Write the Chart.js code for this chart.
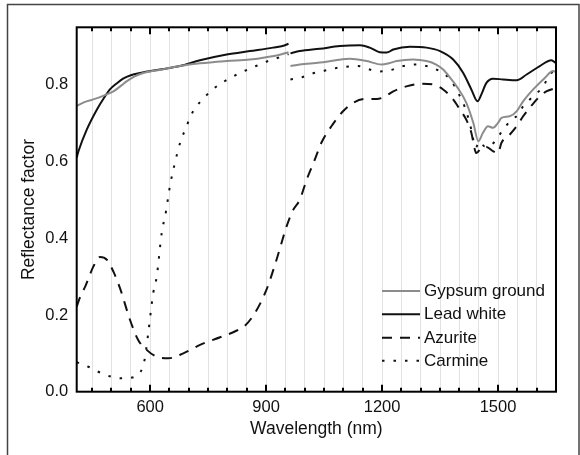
<!DOCTYPE html>
<html>
<head>
<meta charset="utf-8">
<script src="https://cdn.jsdelivr.net/npm/chart.js@4.4.0/dist/chart.umd.min.js"></script>
<style>
  html, body { margin: 0; padding: 0; background: #fff; }
  #wrap { width: 580px; height: 455px; position: relative; }
</style>
</head>
<body>
<div id="wrap"><canvas id="c" width="580" height="455"></canvas></div>
<script>
// ---- data (null = break between detectors at ~961 nm) ----
const gypsumNm = [410,430,453,480,505,525,539,560,582,620,677,729,798,858,900,930,958,961,963,987,1039,1080,1117,1160,1199,1220,1238,1280,1315,1340,1358,1375,1393,1418,1436,1449,1461,1474,1487,1500,1509,1530,1548,1565,1591,1621,1642,1650];
const gypsumR  = [0.745,0.755,0.762,0.772,0.783,0.798,0.809,0.822,0.831,0.838,0.849,0.856,0.862,0.866,0.872,0.877,0.885,null,0.849,0.853,0.858,0.864,0.868,0.862,0.853,0.857,0.862,0.866,0.862,0.853,0.840,0.820,0.796,0.753,0.701,0.653,0.675,0.692,0.688,0.701,0.714,0.718,0.731,0.757,0.788,0.818,0.836,0.833];

const leadNm = [410,415,436,462,480,496,515,530,550,574,625,677,729,798,858,918,945,958,961,963,987,1039,1091,1143,1168,1194,1212,1229,1272,1315,1350,1384,1410,1431,1447,1457,1470,1487,1513,1548,1574,1608,1638,1650];
const leadR  = [0.610,0.628,0.683,0.735,0.765,0.788,0.805,0.816,0.825,0.831,0.840,0.849,0.864,0.879,0.888,0.897,0.902,0.907,null,0.882,0.888,0.894,0.901,0.903,0.897,0.885,0.884,0.892,0.899,0.897,0.888,0.866,0.831,0.788,0.757,0.775,0.805,0.816,0.814,0.812,0.827,0.849,0.864,0.856];

const azuriteNm = [410,420,432,453,470,488,505,522,548,569,591,617,647,686,729,781,819,845,871,901,927,953,970,987,1005,1026,1043,1069,1099,1125,1156,1186,1207,1229,1263,1302,1332,1358,1384,1401,1418,1431,1440,1444,1457,1470,1487,1500,1509,1530,1548,1565,1582,1608,1625,1650];
const azuriteR  = [0.222,0.250,0.274,0.326,0.351,0.344,0.313,0.270,0.187,0.135,0.109,0.091,0.087,0.100,0.122,0.142,0.157,0.172,0.205,0.266,0.344,0.431,0.474,0.500,0.553,0.605,0.649,0.692,0.731,0.753,0.763,0.763,0.769,0.783,0.796,0.803,0.801,0.788,0.762,0.736,0.709,0.675,0.631,0.622,0.636,0.638,0.627,0.622,0.649,0.670,0.692,0.718,0.740,0.770,0.783,0.792];

const carmineNm = [410,440,470,500,526,558,572,580,587,595,608,617,630,641,651,664,680,693,703,720,739,762,785,808,832,858,897,944,958,961,963,987,1018,1048,1082,1138,1168,1194,1220,1255,1289,1315,1350,1376,1397,1418,1431,1442,1452,1465,1478,1495,1513,1535,1552,1565,1591,1617,1635,1650];
const carmineR  = [0.077,0.065,0.050,0.039,0.035,0.038,0.048,0.062,0.091,0.152,0.257,0.300,0.414,0.470,0.535,0.596,0.657,0.688,0.715,0.744,0.766,0.788,0.805,0.818,0.831,0.842,0.859,0.875,0.880,null,0.814,0.818,0.829,0.836,0.844,0.849,0.840,0.835,0.838,0.849,0.853,0.849,0.835,0.814,0.779,0.731,0.683,0.636,0.653,0.640,0.640,0.657,0.683,0.709,0.722,0.744,0.770,0.796,0.829,0.836];

const seriesNames = ["Gypsum ground", "Lead white", "Azurite", "Carmine"];
const xMajorTicks = [600, 900, 1200, 1500];
const xMinorTicks = [450,500,550,600,650,700,750,800,850,900,950,1000,1050,1100,1150,1200,1250,1300,1350,1400,1450,1500,1550,1600];
const yTicks = [0.0, 0.2, 0.4, 0.6, 0.8];

const FONT = "'Liberation Sans', Arial, sans-serif";

function pts(xs, ys) { return xs.map((x, i) => ({ x: x, y: ys[i] })); }

const styles = [
  { color: '#8c8c8c', dash: [] },
  { color: '#111111', dash: [] },
  { color: '#111111', dash: [10, 8] },
  { color: '#111111', dash: [2.5, 9] }
];
const dataSets = [pts(gypsumNm, gypsumR), pts(leadNm, leadR), pts(azuriteNm, azuriteR), pts(carmineNm, carmineR)];

const frameAndTicks = {
  id: 'frameAndTicks',
  beforeDraw(chart) {
    const ctx = chart.ctx;
    ctx.save();
    ctx.fillStyle = '#fff';
    ctx.fillRect(0, 0, chart.width, chart.height);
    ctx.strokeStyle = '#444';
    ctx.lineWidth = 1.5;
    ctx.strokeRect(7.5, 4.5, 571.5, 470);
    ctx.restore();
  },
  afterDraw(chart) {
    const ctx = chart.ctx, ca = chart.chartArea, xs = chart.scales.x;
    ctx.save();
    ctx.strokeStyle = '#000';
    xMinorTicks.forEach(v => {
      const px = Math.round(xs.getPixelForValue(v));
      const major = xMajorTicks.includes(v);
      const len = major ? 7 : 4;
      ctx.lineWidth = 2;
      ctx.beginPath();
      ctx.moveTo(px, ca.bottom); ctx.lineTo(px, ca.bottom - len);
      ctx.moveTo(px, ca.top); ctx.lineTo(px, ca.top + len);
      ctx.stroke();
    });
    ctx.lineWidth = 2;
    ctx.strokeRect(ca.left, ca.top, ca.right - ca.left, ca.bottom - ca.top);
    const rowsY = [291, 314.3, 337.7, 360.7];
    ctx.font = '17px ' + FONT;
    ctx.textBaseline = 'middle';
    ctx.textAlign = 'left';
    seriesNames.forEach((name, i) => {
      ctx.strokeStyle = styles[i].color;
      ctx.lineWidth = 2;
      ctx.setLineDash(styles[i].dash);
      ctx.beginPath();
      ctx.moveTo(382, rowsY[i]); ctx.lineTo(420, rowsY[i]);
      ctx.stroke();
      ctx.setLineDash([]);
      ctx.fillStyle = '#111';
      ctx.fillText(name, 424, rowsY[i] + 0.5);
    });
    ctx.restore();
  }
};

new Chart(document.getElementById('c'), {
  type: 'line',
  data: {
    datasets: seriesNames.map((n, i) => ({
      label: n,
      data: dataSets[i],
      borderColor: styles[i].color,
      borderDash: styles[i].dash,
      borderWidth: 2,
      pointRadius: 0,
      cubicInterpolationMode: 'monotone',
      spanGaps: false,
      fill: false
    }))
  },
  options: {
    responsive: false,
    animation: false,
    devicePixelRatio: 1,
    layout: { padding: { left: 0, top: 27.3, right: 24, bottom: 0 } },
    plugins: { legend: { display: false }, tooltip: { enabled: false } },
    scales: {
      x: {
        type: 'linear',
        min: 410, max: 1650,
        afterBuildTicks(scale) { scale.ticks = xMinorTicks.map(v => ({ value: v })); },
        afterFit(scale) { scale.height = 455 - 391.7; },
        grid: { color: '#e2e2e2', lineWidth: 1, drawTicks: false },
        border: { display: false },
        ticks: {
          padding: 6,
          maxRotation: 0,
          autoSkip: false,
          color: '#111',
          font: { family: FONT, size: 16.5 },
          callback: v => xMajorTicks.includes(v) ? String(v) : ''
        },
        title: { display: true, text: 'Wavelength (nm)', color: '#111', font: { family: FONT, size: 17.5 }, padding: { top: 0, bottom: 15 } }
      },
      y: {
        min: 0, max: 0.95,
        afterBuildTicks(scale) { scale.ticks = yTicks.map(v => ({ value: v })); },
        afterFit(scale) { scale.width = 76.7; },
        grid: { display: false, drawTicks: false },
        border: { display: false },
        ticks: {
          padding: 8.4,
          color: '#111',
          font: { family: FONT, size: 16.5 },
          callback: v => Number(v).toFixed(1)
        },
        title: { display: true, text: 'Reflectance factor', color: '#111', font: { family: FONT, size: 17.5 }, padding: { top: 19, bottom: 0 } }
      }
    }
  },
  plugins: [frameAndTicks]
});
</script>
</body>
</html>
